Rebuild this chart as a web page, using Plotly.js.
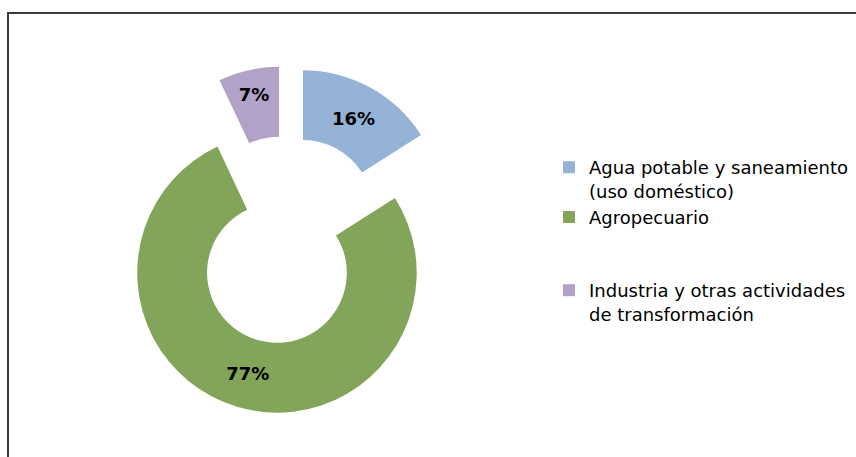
<!DOCTYPE html>
<html>
<head>
<meta charset="utf-8">
<script src="https://cdn.plot.ly/plotly-3.0.1.min.js"></script>
<style>
  html, body { margin: 0; padding: 0; background: #ffffff; }
  #chart { width: 856px; height: 457px; }
</style>
</head>
<body>
<div id="chart"></div>
<script>
// ---- data ----
const categories = [
  "Agua potable y saneamiento<br>(uso doméstico)",
  "Agropecuario",
  "Industria y otras actividades<br>de transformación"
];
const shares = [16, 77, 7];
const sliceColors = ["#95B3D7", "#83A55A", "#B3A2C7"];

// legend rows: pad the single-line entry so every entry occupies the same slot height
const legendLabels = categories.map(function (c) {
  return c.indexOf("<br>") === -1 ? c + "<br> <br> " : c;
});

const W = 856, H = 457;
const M = { l: 0, r: 0, t: 66, b: 43 };
const plotH = H - M.t - M.b;
const cx = 286.5, half = plotH / 2;

const trace = {
  type: "pie",
  labels: legendLabels,
  values: shares,
  sort: false,
  direction: "clockwise",
  rotation: 0,
  hole: 0.5,
  pull: [0.245, 0.245, 0.245],
  marker: { colors: sliceColors, line: { width: 0 } },
  textinfo: "percent",
  textposition: "inside",
  insidetextorientation: "horizontal",
  textfont: { family: "DejaVu Sans, Verdana, sans-serif", size: 18, color: "#000000", weight: "bold" },
  domain: { x: [(cx - half) / W, (cx + half) / W], y: [0, 1] },
  hoverinfo: "label+percent"
};

const layout = {
  width: W,
  height: H,
  margin: M,
  paper_bgcolor: "#ffffff",
  plot_bgcolor: "#ffffff",
  showlegend: true,
  uniformtext: { mode: "show", minsize: 18 },
  legend: {
    x: 549 / W,
    xanchor: "left",
    y: 1 - (149 - M.t) / plotH,
    yanchor: "top",
    valign: "top",
    font: { family: "DejaVu Sans, Verdana, sans-serif", size: 18, color: "#000000" },
    bgcolor: "rgba(0,0,0,0)",
    borderwidth: 0
  },
  shapes: [{
    type: "rect",
    xref: "paper", yref: "paper",
    x0: 8 / W, x1: 1.2,
    y0: -0.5, y1: 1 + (M.t - 13) / plotH,
    line: { color: "#3c3c3c", width: 2 },
    fillcolor: "rgba(0,0,0,0)",
    layer: "above"
  }]
};

Plotly.newPlot("chart", [trace], layout, { displayModeBar: false, staticPlot: true });
</script>
</body>
</html>
